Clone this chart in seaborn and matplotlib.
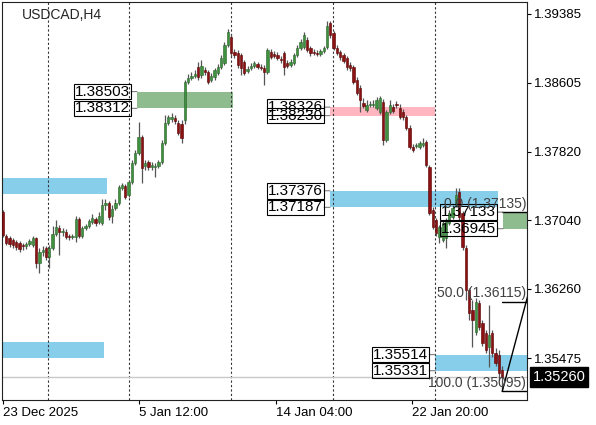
import numpy as np
import matplotlib
matplotlib.use('Agg')
import matplotlib.pyplot as plt
import seaborn as sns

# H4 candles, USDCAD -------------------------------------------------------------
opens = [
    1.3713, 1.3686, 1.3684, 1.3682, 1.3679, 1.3678, 1.3676, 1.3675, 1.3677, 1.3676,
    1.3684, 1.3655, 1.3668, 1.3673, 1.3662, 1.3673, 1.3688, 1.3695, 1.3691, 1.3691,
    1.3686, 1.3685, 1.3685, 1.3705, 1.3686, 1.3695, 1.3698, 1.3702, 1.3705, 1.3702,
    1.3701, 1.3721, 1.3724, 1.3709, 1.3718, 1.3724, 1.3741, 1.3743, 1.3733, 1.3748,
    1.3769, 1.3780, 1.3799, 1.3766, 1.3770, 1.3765, 1.3765, 1.3766, 1.3770, 1.3792,
    1.3815, 1.3819, 1.3820, 1.3815, 1.3813, 1.3818, 1.3861, 1.3866, 1.3868, 1.3878,
    1.3869, 1.3875, 1.3873, 1.3863, 1.3867, 1.3871, 1.3878, 1.3883, 1.3903, 1.3912,
    1.3895, 1.3894, 1.3892, 1.3884, 1.3874, 1.3877, 1.3879, 1.3882, 1.3878, 1.3877,
    1.3873, 1.3895, 1.3893, 1.3892, 1.3887, 1.3894, 1.3883, 1.3881, 1.3883, 1.3892,
    1.3900, 1.3901, 1.3909, 1.3900, 1.3895, 1.3894, 1.3893, 1.3896, 1.3901, 1.3928,
    1.3917, 1.3900, 1.3895, 1.3892, 1.3888, 1.3881, 1.3878, 1.3863, 1.3854, 1.3837,
    1.3829, 1.3835, 1.3835, 1.3832, 1.3827, 1.3838, 1.3795, 1.3827, 1.3833, 1.3836,
    1.3832, 1.3827, 1.3821, 1.3809, 1.3787, 1.3788, 1.3787, 1.3790, 1.3793, 1.3765,
    1.3716, 1.3704, 1.3685, 1.3682, 1.3684, 1.3701, 1.3708, 1.3721, 1.3736, 1.3712,
    1.3673, 1.3625, 1.3602, 1.3577, 1.3610, 1.3587, 1.3576, 1.3560, 1.3576, 1.3553,
    1.3551, 1.3534]
highs = [
    1.3716, 1.3688, 1.3686, 1.3684, 1.3682, 1.3680, 1.3678, 1.3679, 1.3683, 1.3686,
    1.3685, 1.3673, 1.3675, 1.3675, 1.3676, 1.3698, 1.3704, 1.3699, 1.3695, 1.3694,
    1.3688, 1.3688, 1.3709, 1.3708, 1.3698, 1.3700, 1.3705, 1.3711, 1.3708, 1.3713,
    1.3728, 1.3728, 1.3726, 1.3721, 1.3728, 1.3744, 1.3746, 1.3745, 1.3750, 1.3773,
    1.3784, 1.3816, 1.3801, 1.3773, 1.3773, 1.3770, 1.3769, 1.3773, 1.3795, 1.3824,
    1.3824, 1.3826, 1.3824, 1.3818, 1.3818, 1.3863, 1.3870, 1.3873, 1.3875, 1.3884,
    1.3886, 1.3878, 1.3875, 1.3871, 1.3877, 1.3882, 1.3892, 1.3907, 1.3921, 1.3916,
    1.3899, 1.3898, 1.3894, 1.3886, 1.3879, 1.3883, 1.3885, 1.3884, 1.3882, 1.3881,
    1.3900, 1.3899, 1.3896, 1.3895, 1.3891, 1.3896, 1.3886, 1.3887, 1.3894, 1.3903,
    1.3910, 1.3918, 1.3912, 1.3902, 1.3899, 1.3898, 1.3899, 1.3902, 1.3931, 1.3931,
    1.3919, 1.3903, 1.3898, 1.3894, 1.3891, 1.3884, 1.3881, 1.3867, 1.3858, 1.3843,
    1.3841, 1.3840, 1.3841, 1.3844, 1.3845, 1.3842, 1.3829, 1.3841, 1.3836, 1.3840,
    1.3836, 1.3831, 1.3824, 1.3812, 1.3791, 1.3792, 1.3794, 1.3798, 1.3795, 1.3767,
    1.3719, 1.3707, 1.3699, 1.3703, 1.3707, 1.3716, 1.3721, 1.3741, 1.3741, 1.3715,
    1.3676, 1.3627, 1.3613, 1.3616, 1.3613, 1.3591, 1.3579, 1.3608, 1.3579, 1.3559,
    1.3557, 1.3538]
lows = [
    1.3685, 1.3676, 1.3674, 1.3673, 1.3670, 1.3668, 1.3670, 1.3671, 1.3675, 1.3674,
    1.3650, 1.3644, 1.3663, 1.3659, 1.3650, 1.3670, 1.3686, 1.3665, 1.3686, 1.3683,
    1.3682, 1.3683, 1.3679, 1.3684, 1.3684, 1.3693, 1.3695, 1.3700, 1.3698, 1.3700,
    1.3699, 1.3716, 1.3704, 1.3701, 1.3716, 1.3721, 1.3738, 1.3728, 1.3730, 1.3745,
    1.3767, 1.3778, 1.3746, 1.3761, 1.3761, 1.3761, 1.3753, 1.3763, 1.3768, 1.3790,
    1.3812, 1.3816, 1.3813, 1.3801, 1.3792, 1.3813, 1.3859, 1.3863, 1.3866, 1.3863,
    1.3866, 1.3869, 1.3859, 1.3861, 1.3863, 1.3869, 1.3876, 1.3881, 1.3901, 1.3891,
    1.3888, 1.3877, 1.3869, 1.3869, 1.3871, 1.3875, 1.3877, 1.3876, 1.3875, 1.3858,
    1.3870, 1.3887, 1.3888, 1.3886, 1.3883, 1.3869, 1.3877, 1.3878, 1.3881, 1.3890,
    1.3898, 1.3899, 1.3895, 1.3891, 1.3892, 1.3891, 1.3891, 1.3894, 1.3899, 1.3911,
    1.3898, 1.3892, 1.3886, 1.3883, 1.3875, 1.3874, 1.3859, 1.3846, 1.3827, 1.3832,
    1.3827, 1.3833, 1.3833, 1.3829, 1.3825, 1.3790, 1.3793, 1.3825, 1.3826, 1.3832,
    1.3819, 1.3818, 1.3807, 1.3785, 1.3782, 1.3786, 1.3785, 1.3787, 1.3765, 1.3710,
    1.3694, 1.3686, 1.3678, 1.3679, 1.3673, 1.3699, 1.3705, 1.3719, 1.3704, 1.3670,
    1.3613, 1.3591, 1.3560, 1.3574, 1.3579, 1.3561, 1.3553, 1.3537, 1.3549, 1.3538,
    1.3522, 1.35095]
closes = [
    1.3687, 1.3678, 1.3677, 1.3676, 1.3674, 1.3671, 1.3675, 1.3677, 1.3680, 1.3684,
    1.3655, 1.3668, 1.3670, 1.3662, 1.3673, 1.3688, 1.3696, 1.3691, 1.3692, 1.3685,
    1.3685, 1.3686, 1.3705, 1.3686, 1.3695, 1.3698, 1.3703, 1.3707, 1.3701, 1.3709,
    1.3721, 1.3724, 1.3708, 1.3717, 1.3724, 1.3742, 1.3744, 1.3730, 1.3748, 1.3769,
    1.3780, 1.3799, 1.3763, 1.3769, 1.3765, 1.3767, 1.3766, 1.3770, 1.3792, 1.3815,
    1.3821, 1.3821, 1.3817, 1.3803, 1.3798, 1.3861, 1.3866, 1.3868, 1.3870, 1.3867,
    1.3879, 1.3873, 1.3861, 1.3868, 1.3875, 1.3878, 1.3888, 1.3903, 1.3918, 1.3894,
    1.3892, 1.3881, 1.3877, 1.3871, 1.3876, 1.3879, 1.3883, 1.3878, 1.3877, 1.3873,
    1.3898, 1.3890, 1.3891, 1.3888, 1.3886, 1.3878, 1.3879, 1.3884, 1.3892, 1.3900,
    1.3907, 1.3915, 1.3898, 1.3894, 1.3894, 1.3893, 1.3896, 1.3900, 1.3925, 1.3915,
    1.3900, 1.3894, 1.3890, 1.3885, 1.3878, 1.3877, 1.3861, 1.3849, 1.3841, 1.3834,
    1.3835, 1.3836, 1.3836, 1.3841, 1.3843, 1.3795, 1.3827, 1.3835, 1.3828, 1.3835,
    1.3821, 1.3821, 1.3809, 1.3787, 1.3784, 1.3790, 1.3792, 1.3792, 1.3767, 1.3712,
    1.3696, 1.3690, 1.3696, 1.3701, 1.3704, 1.3712, 1.3718, 1.3733, 1.3708, 1.3674,
    1.3625, 1.3599, 1.3591, 1.3611, 1.3583, 1.3565, 1.3557, 1.3574, 1.3553, 1.3542,
    1.3530, 1.3526]

# time axis (bar positions) -------------------------------------------------------
time_ticks = [0, 41.1, 82.6, 123.8]
time_labels = ['23 Dec 2025', '5 Jan 12:00', '14 Jan 04:00', '22 Jan 20:00']
week_seps = [13.6, 38.1, 69.0, 99.8, 130.7]

price_ticks = [1.39385, 1.38605, 1.37820, 1.37040, 1.36260, 1.35475]
bid = 1.35260

# supply / demand zones -----------------------------------------------------------
zone_start = [-5, -5, 40.5, 98.9, 98.9, 151.3, 130.7]
zone_end = [31.5, 30.6, 69.6, 130.7, 149.8, 170, 170]
zone_top = [1.37521, 1.35657, 1.38503, 1.38326, 1.37376, 1.37133, 1.35514]
zone_bottom = [1.37339, 1.35475, 1.38312, 1.38230, 1.37187, 1.36945, 1.35331]
zone_color = ['skyblue', 'skyblue', 'darkseagreen', 'lightpink', 'skyblue', 'darkseagreen', 'skyblue']
zone_labeled = [False, False, True, True, True, True, True]

# fibonacci ----------------------------------------------------------------------
fib_levels = [0.0, 50.0, 100.0]
fib_prices = [1.37135, 1.36115, 1.35095]
fib_x = [151.0, 165.5]

opens, highs, lows, closes = map(np.array, (opens, highs, lows, closes))
idx = np.arange(len(closes))

sns.set_style('white')
plt.rcParams['font.family'] = ['Liberation Sans', 'DejaVu Sans']

fig = plt.figure(figsize=(5.96, 4.25), dpi=100)
ax = fig.add_axes([2 / 596, 25 / 425, 525 / 596, 398 / 425])

# zones
for x0, x1, top, bot, col in zip(zone_start, zone_end, zone_top, zone_bottom, zone_color):
    ax.fill_between([x0, x1], bot, top, color=col, lw=0, zorder=1)

for x0, top, bot, lab in zip(zone_start, zone_top, zone_bottom, zone_labeled):
    if not lab:
        continue
    for lvl in (top, bot):
        ax.annotate(f'{lvl:.5f}', xy=(x0, lvl), xytext=(-5, 0), textcoords='offset points',
                    ha='right', va='center', fontsize=11, color='black', zorder=6,
                    bbox=dict(boxstyle='square,pad=0.05', fc='none', ec='black', lw=0.8),
                    arrowprops=dict(arrowstyle='-', color='#808080', lw=0.8, shrinkA=0, shrinkB=0))

# weekly separators + bid line
for s in week_seps:
    ax.axvline(s, color='#333333', lw=0.8, ls=(0, (2, 2)), zorder=2)
ax.axhline(bid, color='#c8c8c8', lw=1, zorder=2)

# candles
up = closes >= opens
body = np.maximum(np.abs(closes - opens), 0.00004)
ax.vlines(idx, lows, highs, color='#555555', lw=0.9, zorder=3)
ax.bar(idx[up], body[up], bottom=opens[up], width=0.7, color='#3f913f',
       edgecolor='#2a642a', lw=0.4, zorder=4)
ax.bar(idx[~up], body[~up], bottom=closes[~up], width=0.7, color='#8b1212',
       edgecolor='#5c0000', lw=0.4, zorder=4)

# fibonacci retracement
for lvl, p in zip(fib_levels, fib_prices):
    ax.plot([fib_x[0], 170], [p, p], color='black', lw=1, zorder=5)
    ax.annotate(f'{lvl:.1f} ({p:.5f})', xy=(158.3, p), xytext=(0, 1), textcoords='offset points',
                ha='right', va='bottom', fontsize=10, color='#404040', zorder=6)
sns.lineplot(x=fib_x, y=[fib_prices[2], fib_prices[0]], color='black', lw=1, ax=ax, zorder=5)

ax.set_xlim(-0.3, 158.5)
ax.set_ylim(1.34998, 1.39521)

ax.yaxis.tick_right()
ax.set_yticks(price_ticks)
ax.set_yticklabels([f'{p:.5f}' for p in price_ticks])
ax.set_xticks(time_ticks)
ax.set_xticklabels(time_labels)
for lbl in ax.get_xticklabels():
    lbl.set_ha('left')
ax.tick_params(axis='both', length=3, width=0.8, labelsize=9.5, colors='black', pad=2,
               direction='out')
ax.tick_params(axis='y', left=False, right=True)
ax.tick_params(axis='x', bottom=True)

for sp in ax.spines.values():
    sp.set_color('#222222')
    sp.set_linewidth(0.8)

ax.text(0.038, 0.967, 'USDCAD,H4', transform=ax.transAxes, fontsize=10, va='center', ha='left')

ax.annotate(f'{bid:.5f}', xy=(1, bid), xycoords=ax.get_yaxis_transform(), xytext=(4, 0),
            textcoords='offset points', ha='left', va='center', color='white', fontsize=10.5,
            bbox=dict(boxstyle='square,pad=0.2', fc='black', ec='black'), annotation_clip=False)

fig.savefig('out.png', dpi=100)
